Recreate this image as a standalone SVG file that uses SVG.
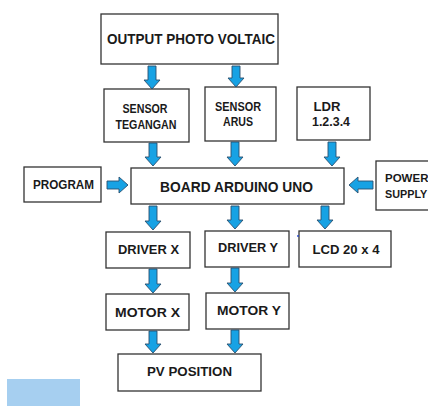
<svg xmlns="http://www.w3.org/2000/svg" width="428" height="406" viewBox="0 0 428 406">
<style>
.box{fill:#fff;stroke:#333;stroke-width:1.3}
.t{font-family:"Liberation Sans",Arial,sans-serif;font-weight:bold;fill:#1a1a1a;text-anchor:middle;font-size:13px}
.ar{fill:#17a2e4;stroke:#2a4f6e;stroke-width:0.9}
</style>
<rect width="428" height="406" fill="#fff"/>
<g id="output"><rect class="box" x="101" y="14" width="177" height="50"/><text class="t" x="191" y="44" style="font-size:14px" textLength="168" lengthAdjust="spacingAndGlyphs">OUTPUT PHOTO VOLTAIC</text></g>
<g id="sensor-tegangan"><rect class="box" x="104" y="89" width="85" height="53"/><text class="t" x="145" y="113" textLength="45" lengthAdjust="spacingAndGlyphs">SENSOR</text><text class="t" x="146" y="129" textLength="61" lengthAdjust="spacingAndGlyphs">TEGANGAN</text></g>
<g id="sensor-arus"><rect class="box" x="205" y="87" width="71" height="54"/><text class="t" x="238" y="111" textLength="46" lengthAdjust="spacingAndGlyphs">SENSOR</text><text class="t" x="238" y="126" textLength="30" lengthAdjust="spacingAndGlyphs">ARUS</text></g>
<g id="ldr"><rect class="box" x="297" y="87" width="73" height="53"/><text class="t" x="327" y="111" textLength="27" lengthAdjust="spacingAndGlyphs">LDR</text><text class="t" x="331" y="126" textLength="38" lengthAdjust="spacingAndGlyphs">1.2.3.4</text></g>
<g id="program"><rect class="box" x="24" y="167" width="77" height="35"/><text class="t" x="63.5" y="189" textLength="61" lengthAdjust="spacingAndGlyphs">PROGRAM</text></g>
<g id="board"><rect class="box" x="131" y="168" width="213" height="36"/><text class="t" x="236.5" y="192" style="font-size:14px" textLength="153" lengthAdjust="spacingAndGlyphs">BOARD ARDUINO UNO</text></g>
<g id="power"><rect class="box" x="376" y="161" width="60" height="49"/><text class="t" x="385" y="182" style="text-anchor:start;font-size:11.5px">POWER</text><text class="t" x="385" y="198" style="text-anchor:start;font-size:10.8px">SUPPLY</text></g>
<g id="driver-x"><rect class="box" x="106" y="232" width="84" height="36"/><text class="t" x="148.5" y="254" textLength="61" lengthAdjust="spacingAndGlyphs">DRIVER X</text></g>
<g id="driver-y"><rect class="box" x="205" y="231" width="84" height="36"/><text class="t" x="248" y="252" textLength="60" lengthAdjust="spacingAndGlyphs">DRIVER Y</text></g>
<g id="lcd"><rect class="box" x="299" y="231" width="92" height="36"/><text class="t" x="346" y="254" textLength="67" lengthAdjust="spacingAndGlyphs">LCD 20 x 4</text></g>
<g id="motor-x"><rect class="box" x="106" y="294" width="83" height="36"/><text class="t" x="147.5" y="317" textLength="65" lengthAdjust="spacingAndGlyphs">MOTOR X</text></g>
<g id="motor-y"><rect class="box" x="206" y="293" width="83" height="36"/><text class="t" x="249" y="315" textLength="64" lengthAdjust="spacingAndGlyphs">MOTOR Y</text></g>
<g id="pv-position"><rect class="box" x="118" y="354" width="143" height="37"/><text class="t" x="189.5" y="376" textLength="85" lengthAdjust="spacingAndGlyphs">PV POSITION</text></g>
<g id="connectors">
<path class="ar" d="M148,66 V80 H144 L152,89 L160,80 H156 V66 Z"/>
<path class="ar" d="M232,66 V78 H228 L236,87 L244,78 H240 V66 Z"/>
<path class="ar" d="M149,143 V157 H145 L153,166 L161,157 H157 V143 Z"/>
<path class="ar" d="M231,142 V157 H227 L235,166 L243,157 H239 V142 Z"/>
<path class="ar" d="M328,142 V157 H324 L332,166 L340,157 H336 V142 Z"/>
<path class="ar" d="M107,181 H119 V177 L128,185 L119,193 V189 H107 Z"/>
<path class="ar" d="M373,181 H358 V177 L349,185 L358,193 V189 H373 Z"/>
<path class="ar" d="M149,206 V221 H145 L153,230 L161,221 H157 V206 Z"/>
<path class="ar" d="M231,206 V220 H227 L235,229 L243,220 H239 V206 Z"/>
<path class="ar" d="M321,206 V220 H317 L325,229 L333,220 H329 V206 Z"/>
<path class="ar" d="M149,269 V284 H145 L153,293 L161,284 H157 V269 Z"/>
<path class="ar" d="M231,268 V283 H227 L235,292 L243,283 H239 V268 Z"/>
<path class="ar" d="M149,331 V344 H145 L153,353 L161,344 H157 V331 Z"/>
<path class="ar" d="M231,330 V344 H227 L235,353 L243,344 H239 V330 Z"/>
</g>
<circle cx="298" cy="236" r="0.9" fill="#2244cc"/>
<rect x="7" y="379" width="73" height="27" fill="#a6cff0"/>
</svg>
